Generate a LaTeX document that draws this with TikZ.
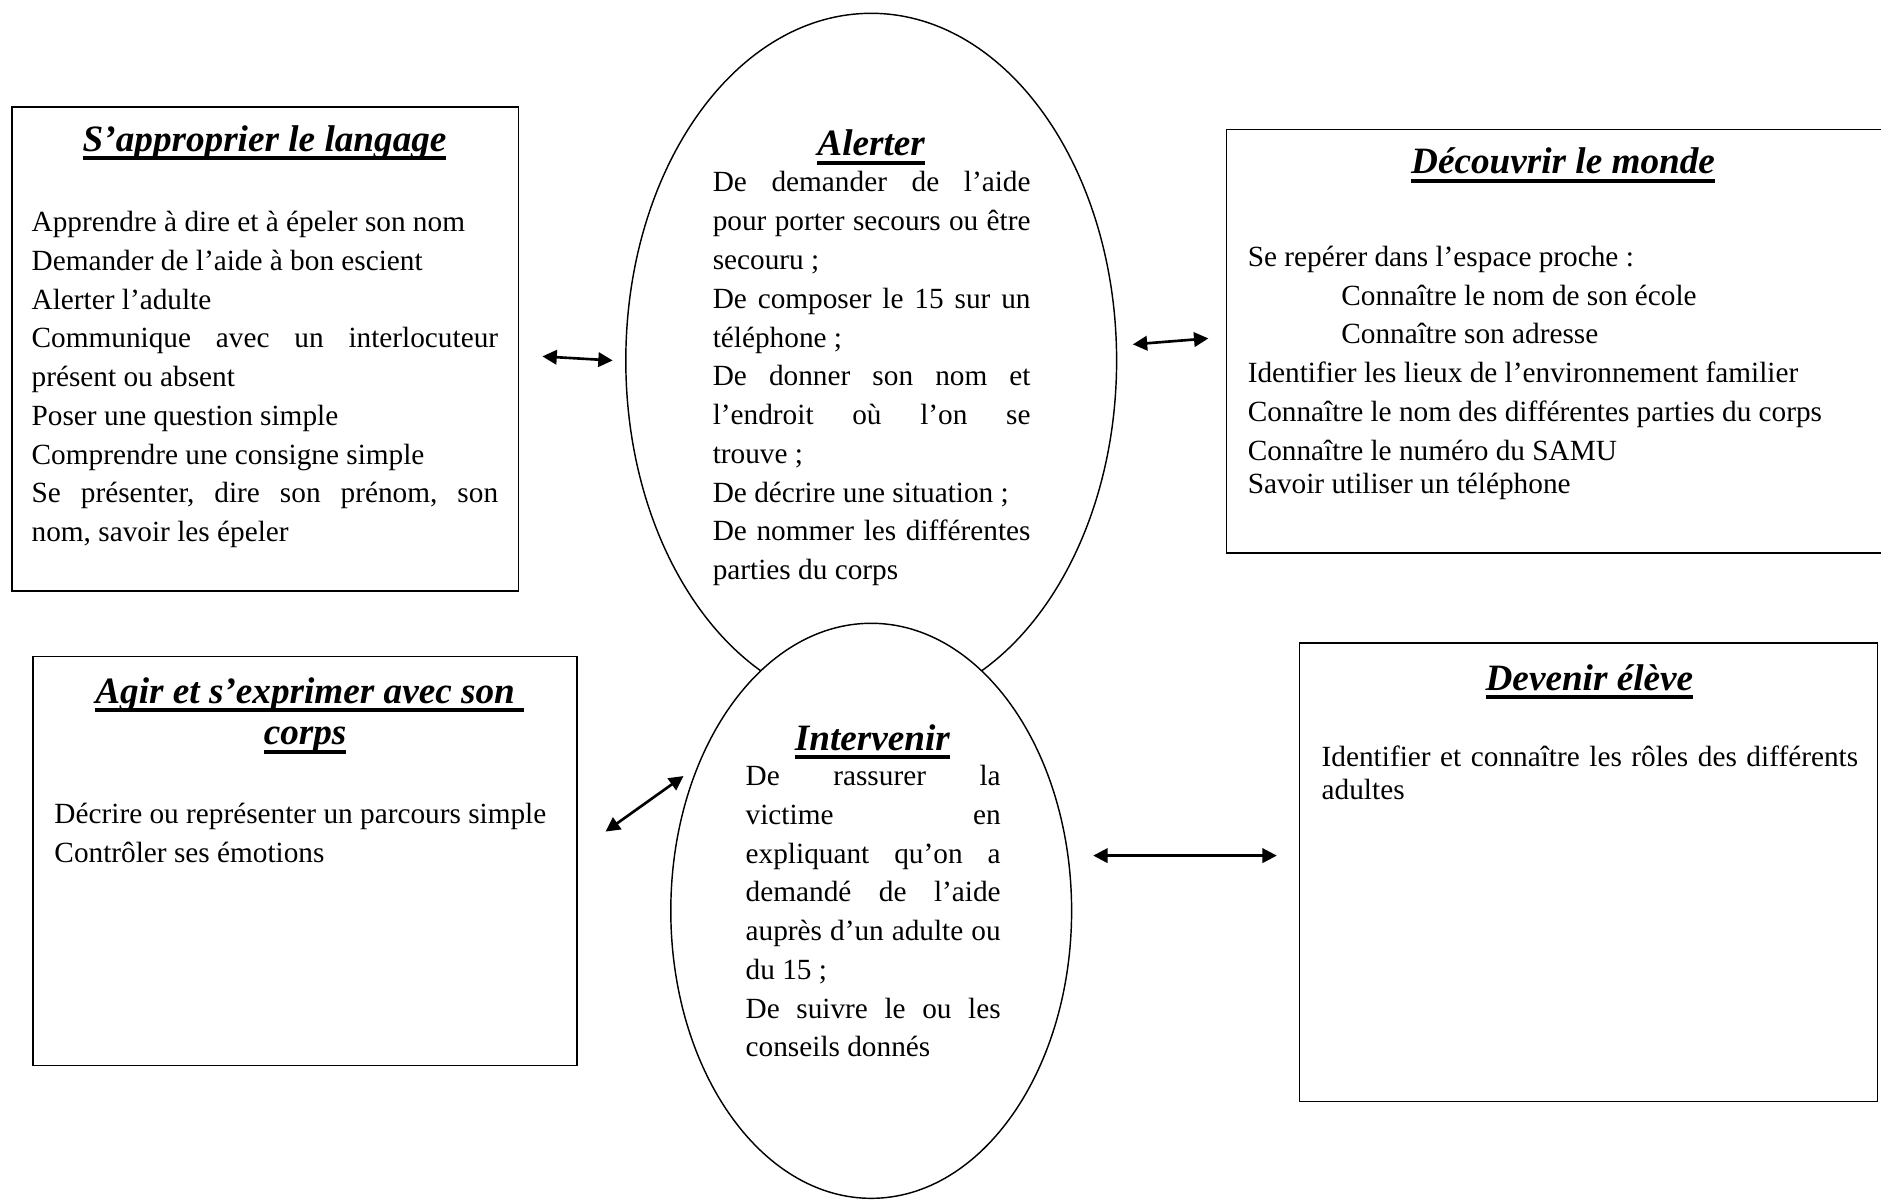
\documentclass[tikz,border=0pt]{standalone}
\usepackage{fontspec}
\setmainfont{Liberation Serif}
\usetikzlibrary{shapes.geometric,arrows.meta}
\newcommand\tul[1]{\setbox0\hbox{#1}\leavevmode\rlap{\rule[-3.8pt]{\wd0}{1.7pt}}\box0}
\newcommand\jl[1]{\leavevmode\hbox to \linewidth{#1}}
\newcommand\wsp{\frenchspacing\spaceskip=0.25em plus 0.6em minus 0.05em\relax\xspaceskip=\spaceskip}
\begin{document}
\begin{tikzpicture}[x=0.5pt,y=-0.5pt,
  frame/.style={draw, line width=0.65pt, inner sep=0pt, outer sep=0pt, rectangle},
  oval/.style={draw, ellipse, line width=0.6pt, inner sep=0pt, outer sep=0pt, fill=white},
  title/.style={anchor=base, inner sep=0pt, font=\fontsize{15.5}{17.3}\selectfont\bfseries\itshape\wsp},
  body/.style={anchor=base west, inner sep=0pt, font=\fontsize{12.2}{16.15}\selectfont\wsp},
  link/.style={{Triangle[length=6pt,width=6pt]}-{Triangle[length=6pt,width=6pt]}, line width=1.1pt}]
\useasboundingbox (0,0) rectangle (1567.5,999.5);
% frames
\node[frame, minimum width=211.1pt, minimum height=201.65pt] (langage) at (221.1,290.85) {};
\node[frame, minimum width=280.5pt, minimum height=176.5pt] (monde) at (1302.5,284.5) {};
\node[frame, minimum width=226.75pt, minimum height=170.5pt] (corps) at (254.25,717.5) {};
\node[frame, minimum width=240.75pt, minimum height=191pt] (eleve) at (1323.75,727) {};
% ovals
\node[oval, minimum width=204.5pt, minimum height=289.4pt] (alerter) at (726,300.5) {};
\node[oval, minimum width=167pt, minimum height=239.6pt] (intervenir) at (726,759) {};
% S'approprier le langage
\node[title] (t1) at (220.5,126) {\tul{S’approprier le langage}};
\node[body, text width=194.35pt] (b1) at (26,193) {\wsp Apprendre à dire et à épeler son nom\\
Demander de l’aide à bon escient\\
Alerter l’adulte\\
\jl{Communique avec un interlocuteur}\\
présent ou absent\\
Poser une question simple\\
Comprendre une consigne simple\\
\jl{Se présenter, dire son prénom, son}\\
nom, savoir les épeler};
% Alerter
\node[title] (t2) at (726,130) {\tul{Alerter}};
\node[body, text width=132.4pt] (b2) at (593.6,160) {\wsp\jl{De demander de l’aide}\\
\jl{pour porter secours ou être}\\
secouru ;\\
\jl{De composer le 15 sur un}\\
téléphone ;\\
\jl{De donner son nom et}\\
\jl{l’endroit où l’on se}\\
trouve ;\\
De décrire une situation ;\\
\jl{De nommer les différentes}\\
parties du corps};
% Decouvrir le monde
\node[title] (t3) at (1302.5,145) {\tul{Découvrir le monde}};
\node[body, text width=262pt] (b3) at (1039.4,222) {\wsp Se repérer dans l’espace proche :\\
\hspace*{39pt}Connaître le nom de son école\\
\hspace*{39pt}Connaître son adresse\\
Identifier les lieux de l’environnement familier\\
Connaître le nom des différentes parties du corps\\
Connaître le numéro du SAMU\\[-2.35pt]
Savoir utiliser un téléphone};
% Agir
\node[title, text width=226pt] (t4) at (254.25,586) {\centering\wsp\tul{Agir et s’exprimer avec son}\rlap{\rule[-3.8pt]{3.9pt}{1.7pt}}\\
\tul{corps}\par};
\node[body, text width=220pt] (b4) at (45,686.6) {\wsp Décrire ou représenter un parcours simple\\
Contrôler ses émotions};
% Intervenir
\node[title] (t5) at (727,625) {\tul{Intervenir}};
\node[body, text width=106.25pt] (b5) at (621,654.7) {\wsp\jl{De rassurer la}\\
\jl{victime en}\\
\jl{expliquant qu’on a}\\
\jl{demandé de l’aide}\\
\jl{auprès d’un adulte ou}\\
du 15 ;\\
\jl{De suivre le ou les}\\
conseils donnés};
% Devenir eleve
\node[title] (t6) at (1324.5,575) {\tul{Devenir élève}};
\node[body, text width=223.5pt, font=\fontsize{12.2}{13.75}\selectfont\wsp] (b6) at (1101,639) {\wsp\jl{Identifier et connaître les rôles des différents}\\
adultes};
% arrows
\coordinate (a1l) at (452,297);
\coordinate (a1r) at (510.6,300.4);
\coordinate (a2l) at (944,287);
\coordinate (a2r) at (1007,282);
\coordinate (a3l) at (504.6,693);
\coordinate (a3r) at (569.6,646.7);
\coordinate (a4l) at (911,713);
\coordinate (a4r) at (1064,713);
\draw[link] (a1l) -- (a1r);
\draw[link] (a2l) -- (a2r);
\draw[link] (a3l) -- (a3r);
\draw[link] (a4l) -- (a4r);
\end{tikzpicture}
\end{document}
